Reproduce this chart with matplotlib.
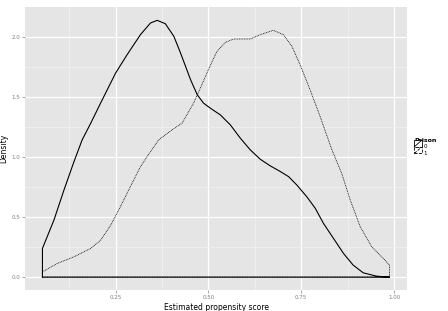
import numpy as np
import matplotlib
matplotlib.use("Agg")
import matplotlib.pyplot as plt
from matplotlib.legend_handler import HandlerBase
from matplotlib.patches import Rectangle
from matplotlib.lines import Line2D

# density estimates
x0 = [0.053, 0.084, 0.111, 0.138, 0.160, 0.183, 0.214, 0.250, 0.281, 0.317,
      0.344, 0.362, 0.384, 0.407, 0.425, 0.452, 0.470, 0.487, 0.505, 0.532,
      0.559, 0.586, 0.613, 0.640, 0.667, 0.694, 0.716, 0.738, 0.765, 0.788,
      0.810, 0.837, 0.864, 0.890, 0.917, 0.953, 0.988]
d0 = [0.239, 0.475, 0.725, 0.961, 1.142, 1.280, 1.475, 1.697, 1.850, 2.017,
      2.114, 2.136, 2.108, 2.003, 1.864, 1.642, 1.517, 1.447, 1.406, 1.350,
      1.267, 1.156, 1.058, 0.980, 0.925, 0.878, 0.836, 0.767, 0.669, 0.572,
      0.447, 0.322, 0.197, 0.100, 0.036, 0.008, 0.000]

x1 = [0.053, 0.093, 0.138, 0.183, 0.210, 0.237, 0.263, 0.290, 0.317, 0.344,
      0.366, 0.402, 0.429, 0.460, 0.478, 0.500, 0.523, 0.546, 0.568, 0.613,
      0.640, 0.675, 0.702, 0.725, 0.747, 0.774, 0.801, 0.832, 0.859, 0.882,
      0.909, 0.940, 0.971, 0.988]
d1 = [0.044, 0.114, 0.169, 0.239, 0.308, 0.433, 0.586, 0.753, 0.919, 1.044,
      1.142, 1.225, 1.280, 1.447, 1.570, 1.725, 1.878, 1.953, 1.981, 1.981,
      2.017, 2.053, 2.017, 1.919, 1.767, 1.558, 1.336, 1.065, 0.864, 0.642,
      0.419, 0.253, 0.156, 0.100]

groups = ["0", "1"]
styles = ["-", (0, (1, 1))]
widths = [0.8, 0.6]

fig = plt.figure(figsize=(4.48, 3.11), dpi=100)
ax = fig.add_axes([25/448, 1-290/311, (407-25)/448, (290-7)/311])
ax.set_facecolor("#E5E5E5")

# closed outline like geom_density
for xs, ds, ls, lw in zip([x0, x1], [d0, d1], styles, widths):
    px = [xs[0]] + list(xs) + [xs[-1], xs[0]]
    py = [0] + list(ds) + [0, 0]
    ax.plot(px, py, color="black", linestyle=ls, lw=lw)

ax.set_xlim(0.006, 1.035)
ax.set_ylim(-0.107, 2.247)
ax.set_xticks([0.25, 0.5, 0.75, 1.0])
ax.set_xticklabels(["0.25", "0.50", "0.75", "1.00"])
ax.set_yticks([0.0, 0.5, 1.0, 1.5, 2.0])
ax.set_yticklabels(["0.0", "0.5", "1.0", "1.5", "2.0"])
ax.set_xticks([0.125, 0.375, 0.625, 0.875], minor=True)
ax.set_yticks([0.25, 0.75, 1.25, 1.75], minor=True)
ax.grid(which="major", color="white", lw=0.9)
ax.grid(which="minor", color="#F2F2F2", lw=0.5)
ax.set_axisbelow(True)
for s in ax.spines.values():
    s.set_visible(False)
ax.tick_params(which="major", length=2, width=0.5, color="#7F7F7F",
               labelsize=4, labelcolor="#7F7F7F", pad=1.5)
ax.tick_params(which="minor", length=0)
ax.set_xlabel("Estimated propensity score", fontsize=5.5)
ax.set_ylabel("Density", fontsize=5.5)
ax.xaxis.set_label_coords(0.5, -0.046)
ax.yaxis.set_label_coords(-0.045, 0.5)


class BoxKey(HandlerBase):
    def create_artists(self, legend, orig, xd, yd, w, h, fs, trans):
        r = Rectangle((xd, yd), w, h, facecolor="white", edgecolor="black",
                      lw=0.6, linestyle=orig.get_linestyle(), transform=trans)
        l = Line2D([xd, xd + w], [yd, yd + h], color="black", lw=0.6,
                   linestyle=orig.get_linestyle(), transform=trans)
        return [r, l]


handles = [Line2D([], [], color="black", linestyle=ls) for ls in styles]
leg = fig.legend(handles, groups, title="Prison", loc="center left",
                 bbox_to_anchor=(411/448, 1-147/311), frameon=False,
                 fontsize=4, title_fontsize=4.5, handlelength=1.3,
                 handleheight=1.4, handletextpad=0.3, labelspacing=0.05,
                 borderpad=0.1, handler_map={Line2D: BoxKey()})
leg.get_title().set_fontweight("bold")
leg._legend_box.align = "left"

fig.savefig("out.png", dpi=100)
